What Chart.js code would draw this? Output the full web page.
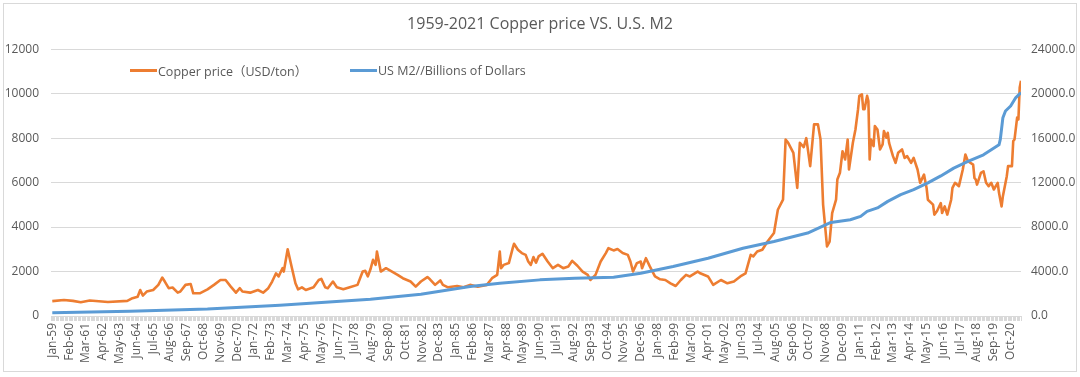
<!DOCTYPE html>
<html>
<head>
<meta charset="utf-8">
<title>1959-2021 Copper price VS. U.S. M2</title>
<script src="https://cdn.jsdelivr.net/npm/chart.js@4.4.1/dist/chart.umd.min.js"></script>
<style>
  html, body { margin: 0; padding: 0; background: #fff; }
  #wrap { position: relative; width: 1080px; height: 377px; }
  #frame { position: absolute; left: 3px; top: 3px; width: 1072px; height: 367px; border: 1px solid #d9d9d9; pointer-events: none; }
  .legend-item { position: absolute; top: 61px; height: 18px; display: flex; align-items: center;
    font: 12.5px "Open Sans", "Noto Sans CJK SC", sans-serif; color: #595959; white-space: nowrap; }
  .legend-item i { display: inline-block; width: 27px; height: 3px; margin-right: 1px; }
</style>
</head>
<body>
<div id="wrap">
  <canvas id="chart" width="1080" height="377"></canvas>
  <div id="frame"></div>
  <div class="legend-item" style="left:130px"><i style="background:#ED7D31"></i>Copper price（USD/ton）</div>
  <div class="legend-item" style="left:350px"><i style="background:#5B9BD5"></i>US M2//Billions of Dollars</div>
</div>
<script>
// x values are months since Jan 1959 (0 = Jan-59, 749 = Jun-21)
const tickLabels = [
  'Jan-59', 'Feb-60', 'Mar-61', 'Apr-62', 'May-63', 'Jun-64', 'Jul-65', 'Aug-66', 'Sep-67', 'Oct-68',
  'Nov-69', 'Dec-70', 'Jan-72', 'Feb-73', 'Mar-74', 'Apr-75', 'May-76', 'Jun-77', 'Jul-78', 'Aug-79',
  'Sep-80', 'Oct-81', 'Nov-82', 'Dec-83', 'Jan-85', 'Feb-86', 'Mar-87', 'Apr-88', 'May-89', 'Jun-90',
  'Jul-91', 'Aug-92', 'Sep-93', 'Oct-94', 'Nov-95', 'Dec-96', 'Jan-98', 'Feb-99', 'Mar-00', 'Apr-01',
  'May-02', 'Jun-03', 'Jul-04', 'Aug-05', 'Sep-06', 'Oct-07', 'Nov-08', 'Dec-09', 'Jan-11', 'Feb-12',
  'Mar-13', 'Apr-14', 'May-15', 'Jun-16', 'Jul-17', 'Aug-18', 'Sep-19', 'Oct-20'
];
const labelEvery = 13; // one label every 13 months

const copperMonth = [
  0, 9, 16, 22, 29, 43, 58, 62, 66, 68, 70, 73, 78, 82, 85, 87, 90, 93, 97, 99,
  103, 107, 109, 114, 120, 125, 130, 134, 138, 142, 145, 147, 153, 159, 163, 167, 170, 173, 175, 178,
  179, 182, 185, 188, 190, 193, 196, 202, 206, 208, 211, 213, 217, 220, 225, 230, 236, 240, 242, 244,
  246, 248, 250, 251, 254, 258, 261, 267, 271, 277, 281, 285, 290, 292, 296, 300, 302, 306, 313, 318,
  323, 329, 336, 340, 344, 346, 347, 349, 353, 356, 357, 360, 363, 366, 368, 370, 372, 374, 376, 379,
  383, 387, 391, 395, 399, 402, 406, 410, 414, 416, 420, 424, 428, 430, 434, 437, 441, 445, 447, 449,
  452, 455, 456, 459, 462, 466, 470, 474, 478, 482, 486, 490, 493, 499, 501, 507, 511, 517, 522, 527,
  532, 536, 540, 542, 545, 549, 553, 558, 561, 565, 567, 569, 573, 576, 578, 581, 583, 586, 589, 592,
  594, 596, 599, 601, 603, 606, 607, 609, 611, 613, 615, 616, 619, 621, 623, 624, 626, 627, 628, 630,
  631, 632, 633, 635, 636, 638, 640, 642, 643, 645, 646, 647, 650, 652, 654, 657, 659, 661, 664, 666,
  669, 671, 674, 676, 677, 681, 682, 684, 687, 688, 690, 692, 695, 696, 698, 701, 704, 706, 708, 712,
  713, 714, 715, 718, 720, 722, 724, 726, 728, 731, 732, 734, 735, 738, 739, 742, 743, 744, 746, 747,
  748, 749
];
const copperPrice = [
  670, 720, 680, 620, 700, 630, 680, 800, 870, 1170, 920, 1100, 1170, 1400, 1730, 1550, 1250, 1280, 1050, 1100,
  1400, 1440, 1020, 1020, 1200, 1400, 1620, 1620, 1320, 1050, 1250, 1100, 1050, 1170, 1050, 1250, 1550, 1920, 1780, 2150,
  2000, 3000, 2230, 1470, 1200, 1290, 1170, 1290, 1620, 1670, 1290, 1250, 1550, 1290, 1200, 1290, 1400, 2000, 2030, 1780,
  2100, 2530, 2300, 2900, 2000, 2150, 2050, 1850, 1700, 1550, 1320, 1550, 1750, 1650, 1400, 1600, 1400, 1290, 1350, 1290,
  1400, 1320, 1400, 1700, 1850, 2900, 2150, 2300, 2380, 3050, 3250, 2980, 2830, 2750, 2450, 2300, 2650, 2400, 2680, 2800,
  2450, 2150, 2300, 2150, 2230, 2480, 2260, 2000, 1850, 1620, 1850, 2450, 2830, 3050, 2950, 3010, 2830, 2750, 2450, 2000,
  2380, 2450, 2150, 2600, 2230, 1780, 1650, 1620, 1470, 1350, 1620, 1850, 1780, 2000, 1920, 1780, 1400, 1620, 1470, 1550,
  1780, 1920, 2750, 2680, 2900, 2980, 3350, 3730, 4780, 5230, 7940, 7790, 7340, 5760, 7790, 7600, 8000, 6740, 8620, 8620,
  7940, 5000, 3130, 3350, 4630, 5230, 6140, 6440, 7410, 7040, 7940, 6590, 7790, 8390, 9300, 9900, 9970, 9300, 9300, 9900,
  9670, 7040, 7940, 7640, 8540, 8390, 7490, 7720, 8320, 8020, 8240, 7790, 7190, 6890, 7340, 7490, 7110, 7190, 6890, 7110,
  6590, 5990, 6360, 5760, 5230, 5010, 4560, 4710, 5080, 4630, 4930, 4560, 5230, 5760, 5990, 5840, 6590, 7260, 6960, 6810,
  6210, 6140, 5910, 6440, 6510, 5990, 5840, 5990, 5690, 5990, 5540, 4930, 5390, 6290, 6740, 6740, 7870, 7940, 8920, 8840,
  10280, 10580
];

const m2Month = [
  0, 60, 120, 176, 246, 285, 323, 346, 377, 404, 434, 455, 480, 507, 534, 558, 584, 602, 617, 625,
  630, 638, 646, 656, 666, 677, 687, 697, 708, 720, 732, 733, 735, 737, 741, 745, 749
];
const m2Value = [
  290, 420, 620, 960, 1500, 1950, 2650, 2950, 3250, 3400, 3490, 3850, 4450, 5200, 6100, 6700, 7460, 8420, 8660, 8960,
  9410, 9720, 10310, 10920, 11370, 11980, 12600, 13300, 13900, 14500, 15400, 15880, 17840, 18440, 18890, 19650, 20100
];

const copperPoints = copperMonth.map((m, i) => ({ x: m, y: copperPrice[i] }));
const m2Points = m2Month.map((m, i) => ({ x: m, y: m2Value[i] }));

const textColor = '#595959';
const gridColor = '#d9d9d9';
const font = { family: '"Open Sans", sans-serif', size: 12 };

new Chart(document.getElementById('chart'), {
  type: 'line',
  data: {
    datasets: [
      {
        label: 'Copper price（USD/ton）',
        data: copperPoints,
        yAxisID: 'y',
        borderColor: '#ED7D31',
        backgroundColor: '#ED7D31',
        borderWidth: 2.6,
        borderJoinStyle: 'round',
        pointRadius: 0,
        tension: 0,
        order: 2,
      },
      {
        label: 'US M2//Billions of Dollars',
        data: m2Points,
        yAxisID: 'y1',
        borderColor: '#5B9BD5',
        backgroundColor: '#5B9BD5',
        borderWidth: 3,
        borderJoinStyle: 'round',
        pointRadius: 0,
        tension: 0,
        order: 1,
      },
    ],
  },
  options: {
    responsive: false,
    animation: false,
    layout: { padding: { left: 4, right: 4, top: 0, bottom: 5 } },
    plugins: {
      legend: { display: false },
      tooltip: { enabled: false },
      title: {
        display: true,
        text: '1959-2021 Copper price VS. U.S. M2',
        color: textColor,
        font: { family: '"Open Sans", sans-serif', size: 16, weight: 'normal' },
        padding: { top: 15, bottom: 15 },
      },
    },
    scales: {
      x: {
        type: 'linear',
        min: -1,
        max: 749,
        afterFit: s => { s.height = 56; },
        grid: { drawOnChartArea: false, drawTicks: true, tickLength: 5, color: gridColor },
        border: { display: true, color: gridColor },
        ticks: {
          stepSize: 1,
          autoSkip: false,
          minRotation: 90,
          maxRotation: 90,
          padding: 2,
          color: textColor,
          font,
          callback: v => (v >= 0 && v % labelEvery === 0) ? tickLabels[v / labelEvery] : '',
        },
      },
      y: {
        position: 'left',
        min: 0,
        max: 12000,
        afterFit: s => { s.width = 47; },
        grid: { color: gridColor, drawTicks: false },
        border: { display: false },
        ticks: { stepSize: 2000, padding: 12, color: textColor, font, callback: v => String(v) },
      },
      y1: {
        position: 'right',
        min: 0,
        max: 24000,
        afterFit: s => { s.width = 55; },
        grid: { drawOnChartArea: false, drawTicks: false },
        border: { display: false },
        ticks: { stepSize: 4000, padding: 10, color: textColor, font, callback: v => v.toFixed(1) },
      },
    },
  },
});
</script>
</body>
</html>
